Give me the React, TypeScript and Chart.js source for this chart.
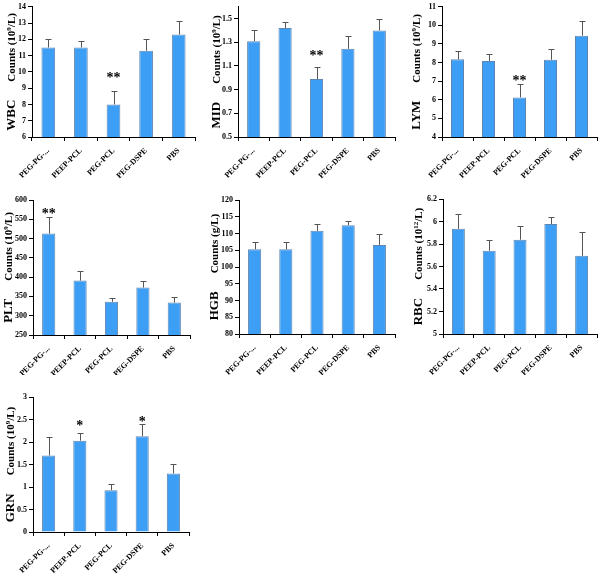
import React, { useEffect, useRef } from "react";
import { Chart, registerables } from "chart.js";

Chart.register(...registerables);

// ---------- data ----------
const categories = ["PEG-PG-...", "PEEP-PCL", "PEG-PCL", "PEG-DSPE", "PBS"];

const wbcMeans = [11.5, 11.5, 8.0, 11.3, 12.3];
const wbcSd = [0.5, 0.4, 0.85, 0.75, 0.85];
const wbcStars = [{ i: 2, t: "**", y: 9.8 }];

const midMeans = [1.31, 1.42, 0.99, 1.245, 1.4];
const midSd = [0.09, 0.055, 0.1, 0.11, 0.095];
const midStars = [{ i: 2, t: "**", y: 1.213 }];

const lymMeans = [8.18, 8.09, 6.13, 8.15, 9.45];
const lymSd = [0.44, 0.38, 0.7, 0.6, 0.8];
const lymStars = [{ i: 2, t: "**", y: 7.16 }];

const pltMeans = [513, 391, 336, 373, 334];
const pltSd = [42, 25, 11, 18, 15];
const pltStars = [{ i: 0, t: "**", y: 571 }];

const hgbMeans = [105.3, 105.3, 110.8, 112.5, 106.6];
const hgbSd = [2.1, 2.3, 2.0, 1.2, 3.2];

const rbcMeans = [5.935, 5.74, 5.838, 5.978, 5.695];
const rbcSd = [0.13, 0.1, 0.12, 0.06, 0.21];

const grnMeans = [1.7, 2.03, 0.93, 2.13, 1.3];
const grnSd = [0.41, 0.18, 0.14, 0.26, 0.22];
const grnStars = [
  { i: 1, t: "*", y: 2.42 },
  { i: 3, t: "*", y: 2.51 },
];

// axis ranges: [min, max, step, last labelled tick]
const wbcAxis = [6, 14, 1, 14];
const midAxis = [0.5, 1.6, 0.2, 1.5];
const lymAxis = [4, 11, 1, 11];
const pltAxis = [250, 600, 50, 600];
const hgbAxis = [80, 120, 5, 120];
const rbcAxis = [5, 6.2, 0.2, 6.2];
const grnAxis = [0, 3, 0.5, 3];

// ---------- style ----------
const SERIF = '"Liberation Serif", "Times New Roman", serif';
const BAR_FILL = "#3d9ef5";
const BAR_BORDER = "#5f86b0";
const ERR_COLOR = "#555555";

type Star = { i: number; t: string; y: number };
type PanelDef = {
  name: string;
  unitPre: string;
  sup: string;
  unitPost: string;
  means: number[];
  sd: number[];
  stars: Star[];
  axis: number[];
  box: { x: number; y: number; w: number; h: number };
  area: { left: number; top: number; right: number; bottom: number };
  titleX: number;
};

const panels: PanelDef[] = [
  {
    name: "WBC", unitPre: "Counts (10", sup: "9", unitPost: "/L)",
    means: wbcMeans, sd: wbcSd, stars: wbcStars, axis: wbcAxis,
    box: { x: 0, y: 0, w: 200, h: 185 },
    area: { left: 32, top: 4, right: 195, bottom: 137 }, titleX: 10,
  },
  {
    name: "MID", unitPre: "Counts (10", sup: "9", unitPost: "/L)",
    means: midMeans, sd: midSd, stars: midStars, axis: midAxis,
    box: { x: 200, y: 0, w: 200, h: 185 },
    area: { left: 38, top: 3, right: 195, bottom: 137 }, titleX: 15,
  },
  {
    name: "LYM", unitPre: "Counts (10", sup: "9", unitPost: "/L)",
    means: lymMeans, sd: lymSd, stars: lymStars, axis: lymAxis,
    box: { x: 400, y: 0, w: 200, h: 185 },
    area: { left: 42, top: 4, right: 197, bottom: 137 }, titleX: 15,
  },
  {
    name: "PLT", unitPre: "Counts (10", sup: "9", unitPost: "/L)",
    means: pltMeans, sd: pltSd, stars: pltStars, axis: pltAxis,
    box: { x: 0, y: 185, w: 200, h: 190 },
    area: { left: 33, top: 15, right: 190, bottom: 150 }, titleX: 7,
  },
  {
    name: "HGB", unitPre: "Counts (g/L)", sup: "", unitPost: "",
    means: hgbMeans, sd: hgbSd, stars: [], axis: hgbAxis,
    box: { x: 200, y: 185, w: 200, h: 190 },
    area: { left: 39, top: 15, right: 195, bottom: 149 }, titleX: 13,
  },
  {
    name: "RBC", unitPre: "Counts (10", sup: "12", unitPost: "/L)",
    means: rbcMeans, sd: rbcSd, stars: [], axis: rbcAxis,
    box: { x: 400, y: 185, w: 200, h: 190 },
    area: { left: 43, top: 14, right: 197, bottom: 149 }, titleX: 17,
  },
  {
    name: "GRN", unitPre: "Counts (10", sup: "9", unitPost: "/L)",
    means: grnMeans, sd: grnSd, stars: grnStars, axis: grnAxis,
    box: { x: 0, y: 375, w: 200, h: 199 },
    area: { left: 33, top: 22, right: 189, bottom: 157 }, titleX: 9,
  },
];

function makePlugins(p: PanelDef) {
  const errorBars = {
    id: "errorBars",
    afterDatasetsDraw(chart: any) {
      const ctx = chart.ctx;
      const ys = chart.scales.y;
      const meta = chart.getDatasetMeta(0);
      ctx.save();
      ctx.strokeStyle = ERR_COLOR;
      ctx.lineWidth = 1;
      meta.data.forEach((el: any, i: number) => {
        const x = Math.round(el.x) + 0.5;
        const yTop = Math.round(ys.getPixelForValue(p.means[i] + p.sd[i])) + 0.5;
        const yBar = el.y;
        ctx.beginPath();
        ctx.moveTo(x, yBar);
        ctx.lineTo(x, yTop);
        ctx.moveTo(x - 3, yTop);
        ctx.lineTo(x + 3, yTop);
        ctx.stroke();
      });
      ctx.fillStyle = "#000";
      ctx.font = `bold 14px ${SERIF}`;
      ctx.textAlign = "center";
      ctx.textBaseline = "alphabetic";
      p.stars.forEach((s) => {
        const el = meta.data[s.i];
        const y = ys.getPixelForValue(s.y) + 7;
        ctx.fillText(s.t, el.x, y);
      });
      ctx.restore();
    },
  };
  const yTitle = {
    id: "yTitle",
    afterDraw(chart: any) {
      const ctx = chart.ctx;
      const a = chart.chartArea;
      const cy = (a.top + a.bottom) / 2;
      const segs = [
        { t: p.name, font: `bold 13px ${SERIF}`, dy: 0, gapAfter: 18 },
        { t: p.unitPre, font: `bold 11px ${SERIF}`, dy: 0, gapAfter: 0 },
        { t: p.sup, font: `bold 7px ${SERIF}`, dy: -4, gapAfter: 0 },
        { t: p.unitPost, font: `bold 11px ${SERIF}`, dy: 0, gapAfter: 0 },
      ].filter((s) => s.t.length > 0);
      ctx.save();
      let total = 0;
      const widths = segs.map((s) => {
        ctx.font = s.font;
        const w = ctx.measureText(s.t).width;
        total += w + s.gapAfter;
        return w;
      });
      ctx.translate(p.titleX, cy);
      ctx.rotate(-Math.PI / 2);
      ctx.fillStyle = "#000";
      ctx.textAlign = "left";
      ctx.textBaseline = "alphabetic";
      let x = -total / 2;
      segs.forEach((s, k) => {
        ctx.font = s.font;
        ctx.fillText(s.t, x, 4.5 + s.dy);
        x += widths[k] + s.gapAfter;
      });
      ctx.restore();
    },
  };
  return [errorBars, yTitle];
}

function Panel({ p }: { p: PanelDef }) {
  const ref = useRef<HTMLCanvasElement>(null);
  useEffect(() => {
    const canvas = ref.current;
    if (!canvas) return;
    const W = p.box.w;
    const H = p.box.h;
    const [min, max, step, lastTick] = p.axis;
    const chart = new Chart(canvas, {
      type: "bar",
      data: {
        labels: categories,
        datasets: [
          {
            data: p.means,
            backgroundColor: BAR_FILL,
            borderColor: BAR_BORDER,
            borderWidth: 1,
            barPercentage: 0.42,
            categoryPercentage: 1,
          },
        ],
      },
      options: {
        animation: false,
        responsive: false,
        maintainAspectRatio: false,
        events: [],
        layout: {
          padding: { top: p.area.top, right: W - p.area.right, left: 0, bottom: 0 },
        },
        plugins: {
          legend: { display: false },
          tooltip: { enabled: false },
          title: { display: false },
        },
        scales: {
          x: {
            grid: {
              offset: true,
              drawOnChartArea: false,
              drawTicks: true,
              tickLength: 4,
              color: "#000",
              lineWidth: 1,
            },
            border: { color: "#000", width: 1 },
            ticks: {
              autoSkip: false,
              maxRotation: 45,
              minRotation: 45,
              color: "#000",
              padding: 5,
              font: { family: SERIF, size: 8, weight: "bold" },
            },
            afterFit: (s: any) => {
              s.height = H - p.area.bottom;
            },
          },
          y: {
            min,
            max,
            grid: {
              drawOnChartArea: false,
              drawTicks: true,
              tickLength: 4,
              color: "#000",
              lineWidth: 1,
            },
            border: { color: "#000", width: 1 },
            ticks: {
              stepSize: step,
              color: "#000",
              padding: 2,
              font: { family: SERIF, size: 8, weight: "bold" },
              callback: (v: any) => String(Math.round(Number(v) * 100) / 100),
            },
            afterBuildTicks: (s: any) => {
              const t: { value: number }[] = [];
              const n = Math.round((lastTick - min) / step);
              for (let k = 0; k <= n; k++) {
                t.push({ value: Math.round((min + k * step) * 1000) / 1000 });
              }
              s.ticks = t;
            },
            afterFit: (s: any) => {
              s.width = p.area.left;
            },
          },
        },
      } as any,
      plugins: makePlugins(p) as any,
    });
    return () => chart.destroy();
  }, [p]);
  return (
    <canvas
      ref={ref}
      width={p.box.w}
      height={p.box.h}
      style={{
        position: "absolute",
        left: p.box.x,
        top: p.box.y,
        width: p.box.w,
        height: p.box.h,
      }}
    />
  );
}

export default function App() {
  return (
    <div
      style={{
        position: "absolute",
        left: 0,
        top: 0,
        width: 600,
        height: 574,
        background: "#fff",
        overflow: "hidden",
      }}
    >
      {panels.map((p) => (
        <Panel key={p.name} p={p} />
      ))}
    </div>
  );
}
